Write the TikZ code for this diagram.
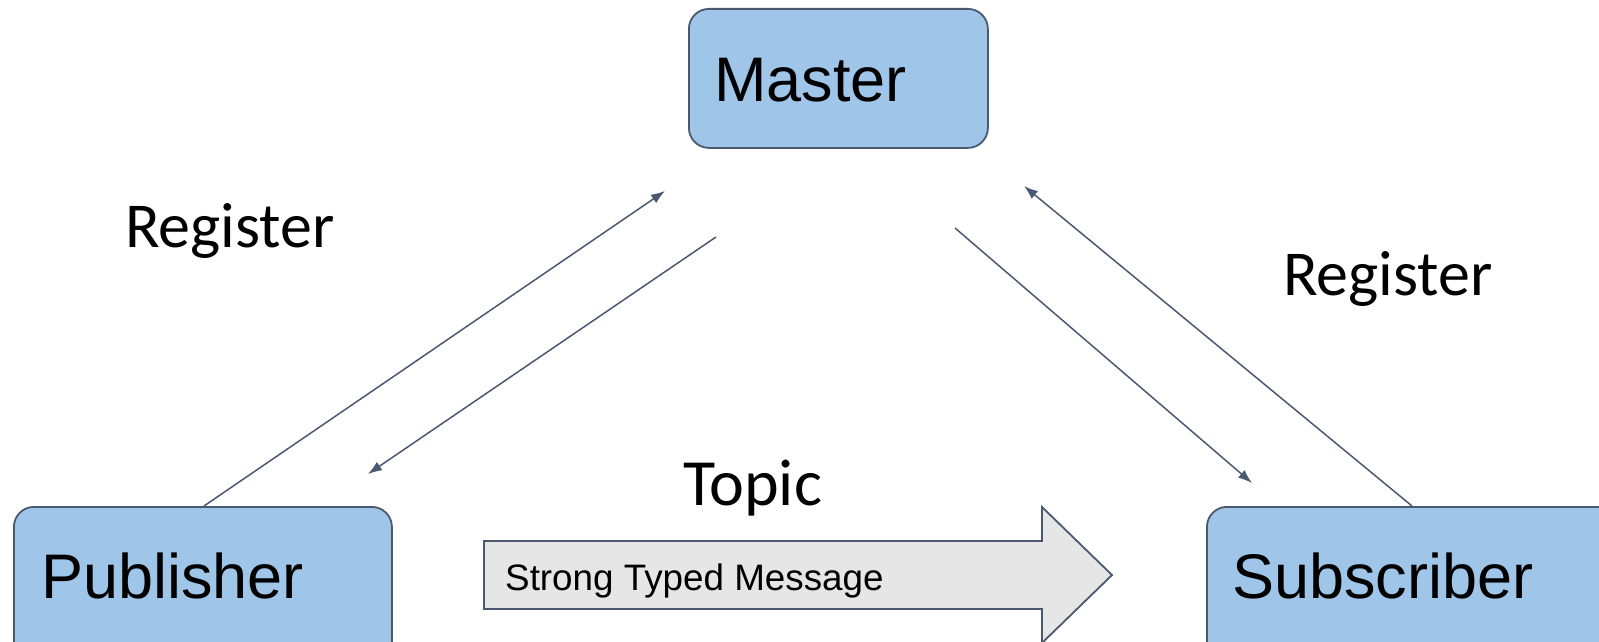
\documentclass[tikz,border=0pt]{standalone}
\usepackage{fontspec}
\setmainfont{Liberation Sans}
\newfontfamily\labelfont{Carlito}
\usetikzlibrary{arrows.meta}
\definecolor{boxfill}{HTML}{9FC5E8}
\definecolor{edge}{HTML}{4A5870}
\definecolor{bigfill}{HTML}{E6E6E6}
\tikzset{
  box/.style={draw=edge, line width=1.8pt, fill=boxfill, rounded corners=20pt,
    anchor=north west, inner sep=0pt},
  boxtext/.style={anchor=base west, inner sep=0pt, font=\fontsize{63}{70}\selectfont},
  tag/.style={anchor=base west, inner sep=0pt, font=\labelfont\fontsize{64}{70}\selectfont},
  link/.style={draw=edge, line width=1.5pt, -{Latex[length=14pt,width=10pt]}},
}
\begin{document}
\begin{tikzpicture}[x=1pt, y=-1pt]
\useasboundingbox (0,0) rectangle (1599,642);
\clip (0,0) rectangle (1599,642);

% the three parties
\node[box, minimum width=299pt, minimum height=139pt] (master) at (688,8) {};
\node[boxtext] (mastertext) at (714,102) {Master};
\node[box, minimum width=378pt, minimum height=200pt] (pub) at (13,506) {};
\node[boxtext] (pubtext) at (41,598) {Publisher};
\node[box, minimum width=420pt, minimum height=200pt] (sub) at (1206,506) {};
\node[boxtext] (subtext) at (1232,598) {Subscriber};

% labels
\node[tag] (regl) at (125,247) {Register};
\node[tag] (regr) at (1283,295) {Register};
\node[tag, font=\labelfont\fontsize{66}{70}\selectfont] (topic) at (683,505) {Topic};

% message arrow
\draw[draw=edge, line width=1.8pt, fill=bigfill, line join=miter]
  (484,541) -- (1042,541) -- (1042,507) -- (1112,575) -- (1042,643)
  -- (1042,609) -- (484,609) -- cycle;
\node[anchor=base west, inner sep=0pt, font=\fontsize{36.8}{40}\selectfont] (msg) at (505,590) {Strong Typed Message};

% connector end points
\coordinate (p1) at (204,506);
\coordinate (m1) at (665,191);
\coordinate (m2) at (716,237);
\coordinate (p2) at (368,474);
\coordinate (m3) at (955,228);
\coordinate (s3) at (1252,483);
\coordinate (s4) at (1412,506);
\coordinate (m4) at (1024,186);

\draw[link] (p1) -- (m1);
\draw[link] (m2) -- (p2);
\draw[link] (m3) -- (s3);
\draw[link] (s4) -- (m4);
\end{tikzpicture}
\end{document}
